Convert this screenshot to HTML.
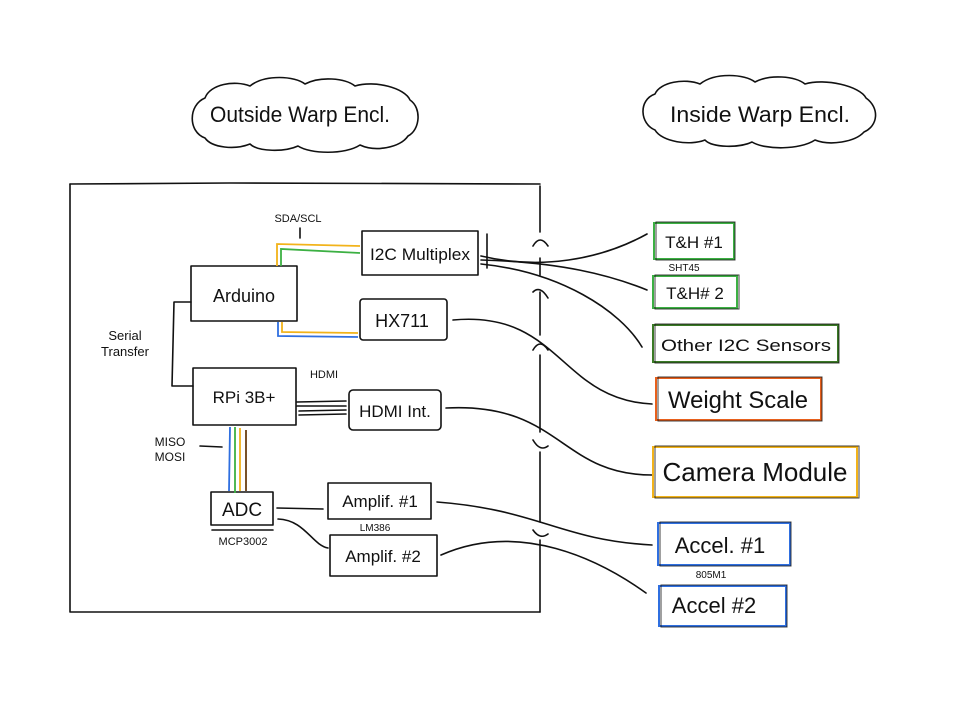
<!DOCTYPE html>
<html><head><meta charset="utf-8"><style>
html,body{margin:0;padding:0;background:#fff;}
svg{display:block}
text{font-family:"Liberation Sans",sans-serif;fill:#111}
</style></head><body>
<svg width="960" height="701" viewBox="0 0 960 701" xmlns="http://www.w3.org/2000/svg">
<g fill="none" stroke="#111" stroke-width="1.6" stroke-linecap="round" stroke-linejoin="round">
<!-- clouds -->
<path d="M205,138 C188,132 188,105 205,98 C210,84 235,80 250,86 C265,74 295,76 305,84 C320,76 345,78 355,86 C375,80 405,88 410,100 C422,108 420,130 408,136 C400,148 375,152 360,145 C345,155 310,154 298,146 C285,152 258,152 250,144 C235,150 212,148 205,138 Z"/>
<path d="M655,130 C640,124 638,100 655,94 C660,82 685,78 700,84 C715,72 745,74 755,82 C770,74 795,76 805,84 C825,78 860,86 866,98 C880,108 878,126 864,132 C855,142 830,146 815,140 C800,150 765,150 752,142 C740,148 712,148 705,140 C690,146 662,142 655,130 Z"/>
<!-- frame -->
<path d="M70,184 L230,183 L540,184"/>
<path d="M70,184 L70,612 L540,612"/>
<path d="M540,186 L540,232 M540,258 L540,275 M540,292 L540,335 M540,355 L540,432 M540,452 L540,522 M540,540 L540,612"/>
<path d="M533,246 Q540,234 548,246 M533,292 Q540,285 548,298 M533,350 Q540,338 548,350 M533,440 Q540,452 548,446 M533,530 Q540,540 548,534"/>
<!-- boxes left -->
<rect x="191" y="266" width="106" height="55"/>
<rect x="362" y="231" width="116" height="44"/>
<path d="M487,234 L487,268"/>
<rect x="360" y="299" width="87" height="41" rx="3"/>
<rect x="193" y="368" width="103" height="57"/>
<rect x="349" y="390" width="92" height="40" rx="4"/>
<rect x="211" y="492" width="62" height="33"/>
<path d="M212,530 L273,530"/>
<rect x="328" y="483" width="103" height="36"/>
<rect x="330" y="535" width="107" height="41"/>
<!-- serial -->
<path d="M191,302 L174,302 L172,386 L193,386"/>
<!-- SDA -->
<path d="M300,228 L300,238"/>
<!-- HDMI cable -->
<path d="M297,402 L346,401 M297,406 L346,406 M299,411 L346,410 M299,415 L346,414"/>
<!-- MISO -->
<path d="M200,446 L222,447"/>
<!-- ADC to amps -->
<path d="M277,508 L323,509 M278,519 C305,520 312,545 328,548"/>
<!-- connectors to right -->
<path d="M481,256 C540,270 600,260 647,234"/>
<path d="M481,260 C560,262 610,275 647,290"/>
<path d="M481,264 C560,272 620,310 642,347"/>
<path d="M453,320 C560,310 560,400 652,404"/>
<path d="M446,408 C560,402 560,475 652,475"/>
<path d="M437,502 C540,510 560,540 652,545"/>
<path d="M441,555 C520,520 600,560 646,593"/>
</g>
<!-- colored wires -->
<g fill="none" stroke-width="1.8">
<path d="M277,266 L277,244 L360,246" stroke="#f2b31a"/>
<path d="M281,266 L281,249 L360,253" stroke="#3cb043"/>
<path d="M278,322 L278,336 L358,337" stroke="#2f6fe0"/>
<path d="M282,322 L282,332 L358,333" stroke="#f2b31a"/>
<path d="M230,427 L229,491" stroke="#2f6fe0"/>
<path d="M235,427 L235,493" stroke="#3cb043"/>
<path d="M240,428 L240,491" stroke="#f2b31a"/>
<path d="M246,430 L246,491" stroke="#6b3e12"/>
</g>
<!-- right boxes -->
<g fill="none" stroke-width="2">
<rect x="654" y="223" width="80" height="36" stroke="#3cb043"/>
<rect x="653" y="276" width="84" height="32" stroke="#3cb043"/>
<rect x="653" y="325" width="185" height="37" stroke="#3a7a25"/>
<rect x="656" y="378" width="165" height="42" stroke="#e8601c"/>
<rect x="653" y="447" width="204" height="50" stroke="#f2b31a"/>
<rect x="658" y="523" width="132" height="42" stroke="#2f6fe0"/>
<rect x="659" y="586" width="127" height="40" stroke="#2f6fe0"/>
</g>
<g fill="none" stroke="#111" stroke-width="1" opacity="0.8">
<rect x="656" y="222" width="79" height="38"/>
<rect x="655" y="275" width="84" height="34"/>
<rect x="655" y="324" width="184" height="39"/>
<rect x="658" y="377" width="164" height="44"/>
<rect x="655" y="446" width="204" height="52"/>
<rect x="660" y="522" width="131" height="44"/>
<rect x="661" y="585" width="126" height="42"/>
</g>
<!-- text -->
<text x="300" y="122" font-size="22" text-anchor="middle" textLength="180" lengthAdjust="spacingAndGlyphs">Outside Warp Encl.</text>
<text x="760" y="122" font-size="22" text-anchor="middle" textLength="180" lengthAdjust="spacingAndGlyphs">Inside Warp Encl.</text>
<text x="298" y="222" font-size="11" text-anchor="middle">SDA/SCL</text>
<text x="420" y="260" font-size="17" text-anchor="middle" textLength="100" lengthAdjust="spacingAndGlyphs">I2C Multiplex</text>
<text x="244" y="302" font-size="18" text-anchor="middle">Arduino</text>
<text x="402" y="327" font-size="18" text-anchor="middle">HX711</text>
<text x="125" y="340" font-size="13" text-anchor="middle">Serial</text>
<text x="125" y="356" font-size="13" text-anchor="middle">Transfer</text>
<text x="324" y="378" font-size="11" text-anchor="middle">HDMI</text>
<text x="244" y="403" font-size="17" text-anchor="middle">RPi 3B+</text>
<text x="395" y="417" font-size="17" text-anchor="middle">HDMI Int.</text>
<text x="170" y="446" font-size="12" text-anchor="middle">MISO</text>
<text x="170" y="461" font-size="12" text-anchor="middle">MOSI</text>
<text x="242" y="516" font-size="19" text-anchor="middle">ADC</text>
<text x="243" y="545" font-size="11" text-anchor="middle">MCP3002</text>
<text x="380" y="507" font-size="17" text-anchor="middle">Amplif. #1</text>
<text x="375" y="531" font-size="10" text-anchor="middle">LM386</text>
<text x="383" y="562" font-size="17" text-anchor="middle">Amplif. #2</text>
<text x="694" y="248" font-size="17" text-anchor="middle">T&amp;H #1</text>
<text x="684" y="271" font-size="10" text-anchor="middle">SHT45</text>
<text x="695" y="299" font-size="17" text-anchor="middle">T&amp;H# 2</text>
<text x="746" y="351" font-size="17" text-anchor="middle" textLength="170" lengthAdjust="spacingAndGlyphs">Other I2C Sensors</text>
<text x="738" y="408" font-size="24" text-anchor="middle" textLength="140" lengthAdjust="spacingAndGlyphs">Weight Scale</text>
<text x="755" y="481" font-size="26" text-anchor="middle" textLength="185" lengthAdjust="spacingAndGlyphs">Camera Module</text>
<text x="720" y="553" font-size="22" text-anchor="middle">Accel. #1</text>
<text x="711" y="578" font-size="10" text-anchor="middle">805M1</text>
<text x="714" y="613" font-size="22" text-anchor="middle">Accel #2</text>
</svg>
</body></html>
